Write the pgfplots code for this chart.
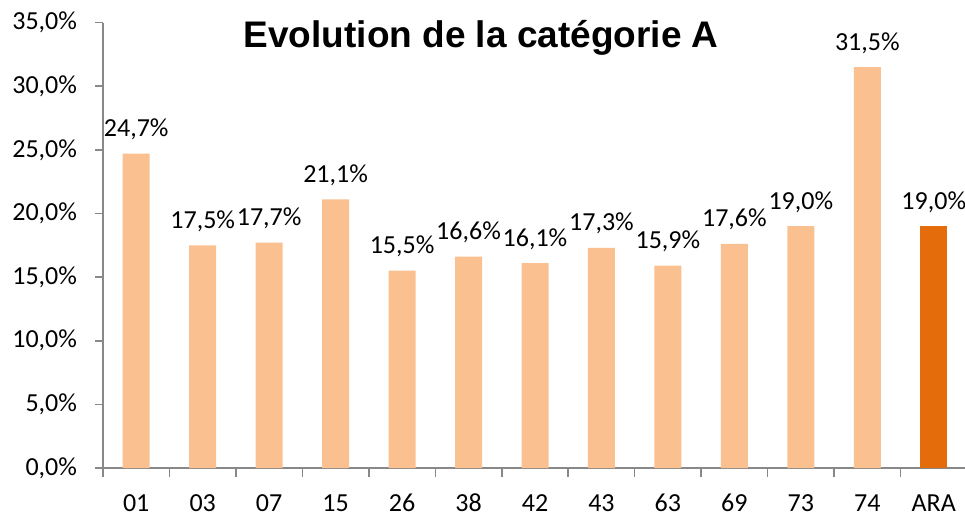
\documentclass[border=0pt]{standalone}
\usepackage{fontspec}
\setmainfont{Carlito}
\newfontfamily\titlefont{Liberation Sans}
\usepackage{pgfplots}
\pgfplotsset{compat=1.18}
\definecolor{lightorange}{HTML}{FAC090}
\definecolor{darkorange}{HTML}{E46C0A}
\definecolor{axisgray}{HTML}{888888}

\begin{document}
\begin{tikzpicture}
\begin{axis}[
    scale only axis,
    width=432pt, height=222.75pt,
    xmin=-0.5, xmax=12.5,
    ymin=0, ymax=35,
    ybar, bar width=13.5pt,
    axis x line*=bottom, axis y line*=left,
    axis line style={axisgray, line width=0.8pt},
    xtick={0,...,12},
    xticklabels={01,03,07,15,26,38,42,43,63,69,73,74,ARA},
    minor xtick={-0.5,0.5,...,12.5},
    x tick style={draw=none},
    minor x tick style={draw=axisgray, line width=0.8pt},
    minor tick length=4.5pt,
    ytick={0,5,...,35},
    y tick style={axisgray, line width=0.8pt},
    major tick length=4pt,
    tick align=outside,
    /pgf/number format/assume math mode=true,
    yticklabel={\pgfmathprintnumber[fixed,fixed zerofill,precision=1,use comma]{\tick}\%},
    tick label style={font=\fontsize{13}{15}\selectfont, black},
    yticklabel style={xshift=-5.5pt},
    xticklabel style={text height=8pt, text depth=0pt, inner ysep=1pt, yshift=-8.3pt},
    nodes near coords={\pgfmathprintnumber[fixed,fixed zerofill,precision=1,use comma,assume math mode=true]{\pgfplotspointmeta}\%},
    every node near coord/.append style={font=\fontsize{13}{15}\selectfont, black, anchor=base, yshift=8.5pt},
    clip=false,
]
% departments
\addplot[fill=lightorange, draw=none, bar shift=0pt] coordinates {
    (0,24.7) (1,17.5) (2,17.7) (3,21.1) (4,15.5) (5,16.6)
    (6,16.1) (7,17.3) (8,15.9) (9,17.6) (10,19.0) (11,31.5)
};
% region ARA
\addplot[fill=darkorange, draw=none, bar shift=0pt] coordinates {(12,19.0)};

\node[anchor=base, font=\titlefont\bfseries\fontsize{18.5}{22}\selectfont]
    at (axis cs:5.19,33.07) {Evolution de la catégorie A};
\end{axis}
\pgfresetboundingbox
\path (-51.5pt,-24pt) rectangle (431pt,234pt);
\end{tikzpicture}
\end{document}
